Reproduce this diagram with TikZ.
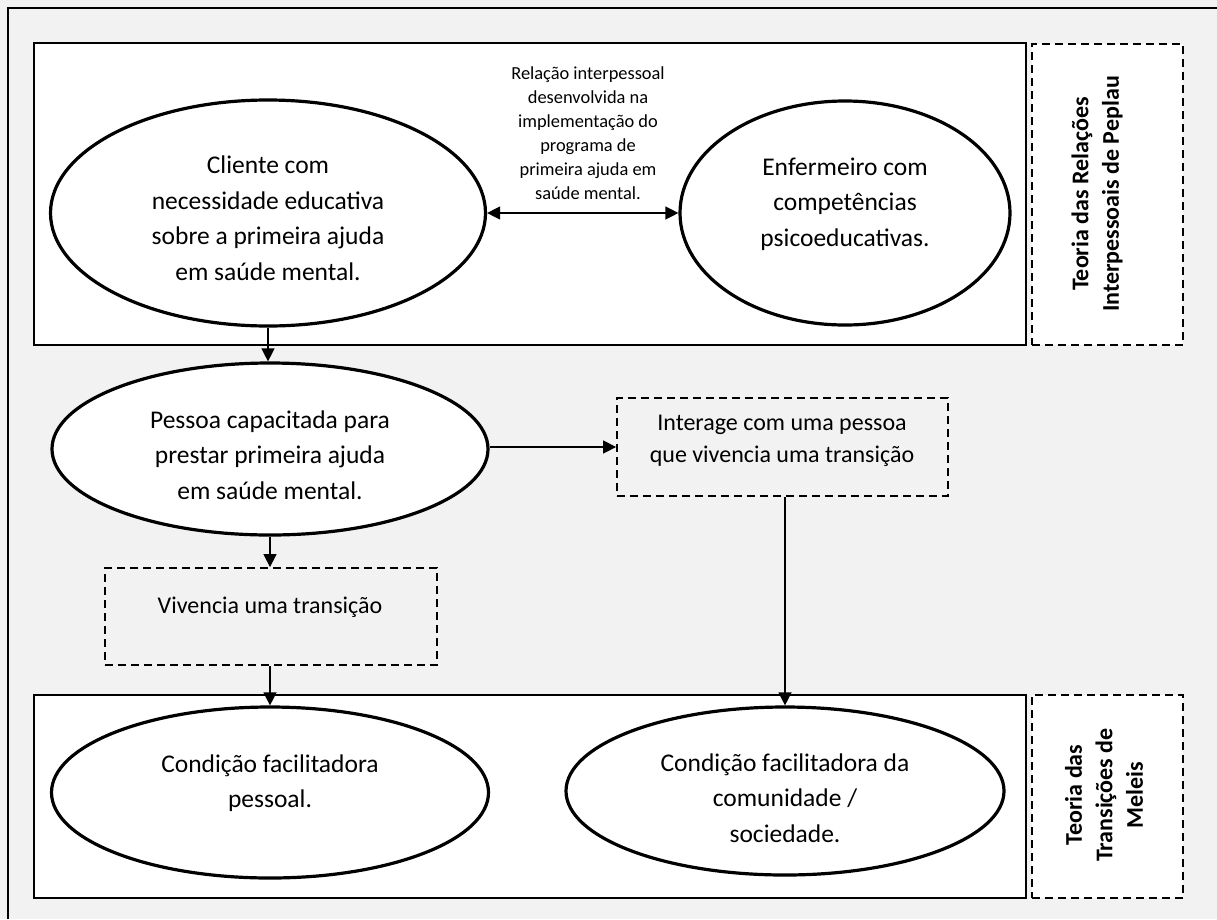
\documentclass[tikz,border=0pt]{standalone}
\usepackage{fontspec}
\setmainfont{Carlito}
\usetikzlibrary{shapes.geometric,arrows.meta}
\definecolor{bggray}{HTML}{F2F2F2}
\begin{document}
\begin{tikzpicture}[x=1pt,y=-1pt,
  >={Triangle[length=13pt,width=13pt]},
  frame/.style={draw=black,line width=2pt,fill=white},
  oval/.style={draw=black,ellipse,line width=3.2pt,fill=white,inner sep=0pt},
  dbox/.style={draw=black,line width=1.8pt,dash pattern=on 8pt off 5pt,inner sep=0pt},
  sidebox/.style={dbox,fill=white},
  bigtxt/.style={align=center,font=\fontsize{25.5}{35.5}\selectfont},
  boxtxt/.style={align=center,font=\fontsize{24}{32}\selectfont},
  smalltxt/.style={align=center,font=\fontsize{18.4}{24}\selectfont},
  sidetxt/.style={align=center,rotate=90,font=\bfseries\fontsize{24}{30.5}\selectfont},
  conn/.style={draw=black,line width=1.3pt}
]
\fill[bggray] (0,0) rectangle (1217,919);
\useasboundingbox (0,0) rectangle (1217,919);
% outer frame (only left and top edges visible)
\draw[line width=2pt] (7.5,919) -- (7.5,8) -- (1217,8);

% main boxes
\draw[frame] (34,43) rectangle (1026,345);
\draw[frame] (34,695) rectangle (1026,898);

% side theory boxes
\node[sidebox,minimum width=151pt,minimum height=301pt] (peplau) at (1107.5,194.5) {};
\node[sidetxt] (peplaut) at (1097,194) {Teoria das Relações\\Interpessoais de Peplau};
\node[sidebox,minimum width=151pt,minimum height=203pt] (meleis) at (1107.5,796.5) {};
\node[sidetxt] (meleist) at (1104,795) {Teoria das\\Transições de\\Meleis};

% ellipses
\node[oval,minimum width=435pt,minimum height=226pt] (e1) at (268,213) {};
\node[bigtxt] (e1t) at (268,218) {Cliente com\\necessidade educativa\\sobre a primeira ajuda\\em saúde mental.};
\node[oval,minimum width=330pt,minimum height=224pt] (e2) at (845,213) {};
\node[bigtxt] (e2t) at (845,204) {Enfermeiro com\\competências\\psicoeducativas.};
\node[oval,minimum width=436pt,minimum height=172pt] (e3) at (270,449) {};
\node[bigtxt] (e3t) at (270,455) {Pessoa capacitada para\\prestar primeira ajuda\\em saúde mental.};
\node[oval,minimum width=437pt,minimum height=171pt] (e4) at (270,792.5) {};
\node[bigtxt] (e4t) at (270,783) {Condição facilitadora\\pessoal.};
\node[oval,minimum width=438pt,minimum height=168pt] (e5) at (785,791) {};
\node[bigtxt] (e5t) at (785,798) {Condição facilitadora da\\comunidade /\\sociedade.};

% relation label
\node[smalltxt] (rel) at (588,133) {Relação interpessoal\\desenvolvida na\\implementação do\\programa de\\primeira ajuda em\\saúde mental.};

% dashed boxes
\node[dbox,minimum width=331pt,minimum height=98pt] (inter) at (782.5,447) {};
\node[boxtxt] (intert) at (782,441) {Interage com uma pessoa\\que vivencia uma transição};
\node[dbox,minimum width=332pt,minimum height=97pt] (viv) at (271,616.5) {};
\node[boxtxt] (vivt) at (270,607) {Vivencia uma transição};

% connectors
\draw[conn,<->] (e1.east) -- (e2.west);
\draw[conn,->] (e1.south) -- (e1.south |- e3.north);
\draw[conn,->] (e3.east |- inter.west) -- (inter.west);
\draw[conn,->] (e3.south) -- (e3.south |- viv.north);
\draw[conn,->] (e4.north |- viv.south) -- (e4.north);
\draw[conn,->] (e5.north |- inter.south) -- (e5.north);
\end{tikzpicture}
\end{document}
